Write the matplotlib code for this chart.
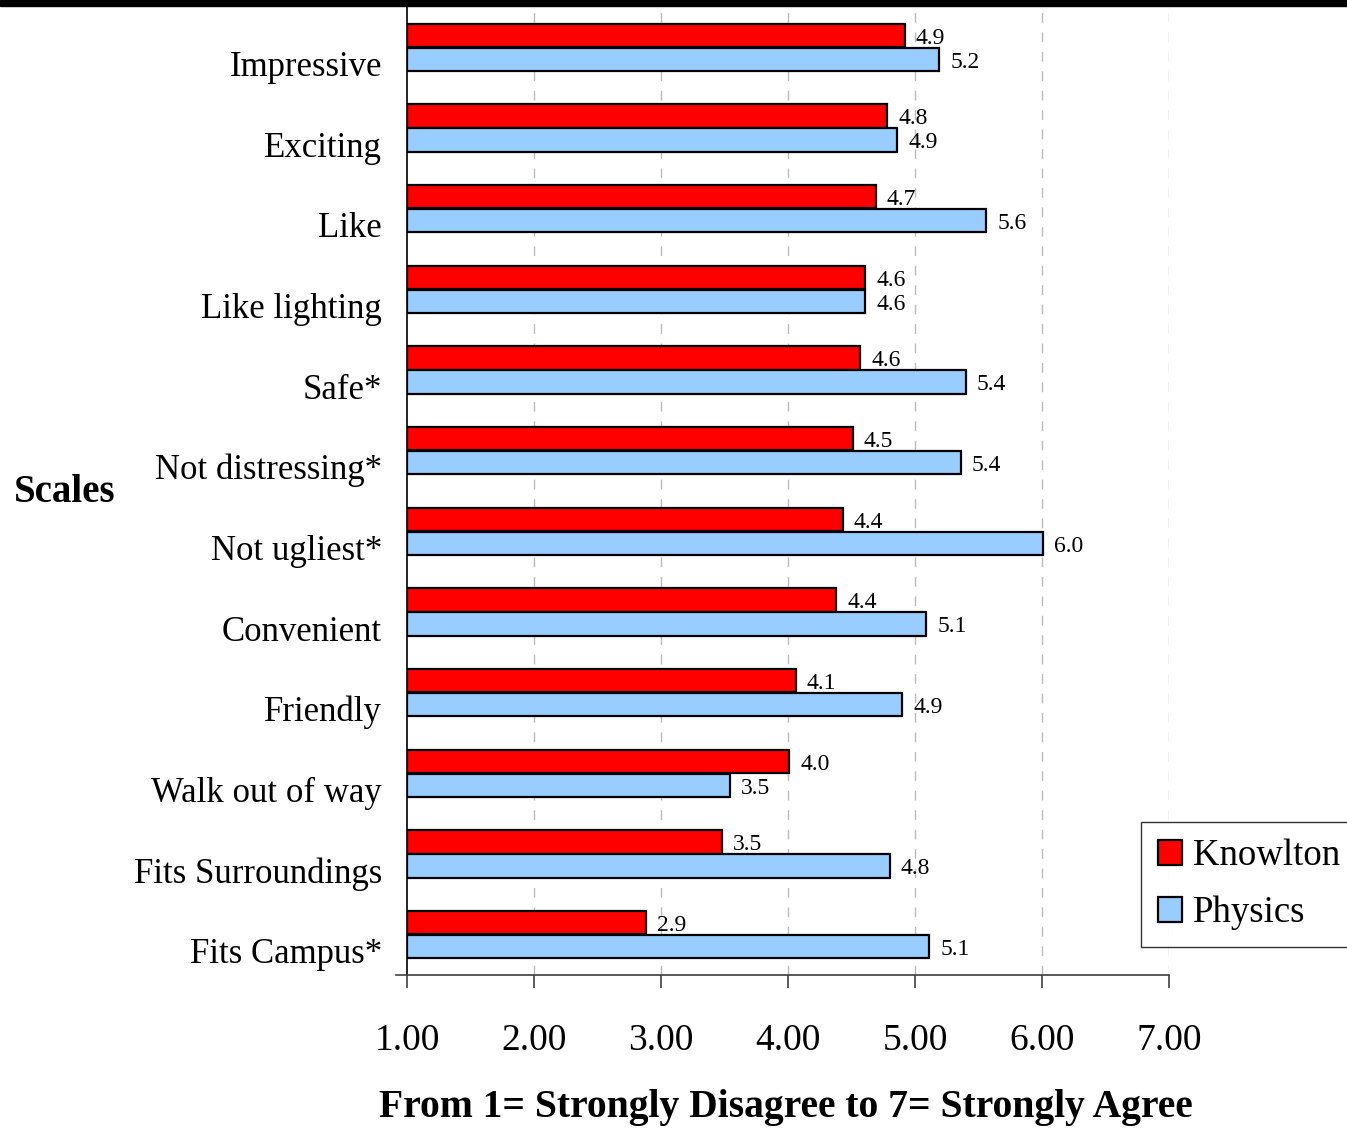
"""Grouped horizontal bar chart: Knowlton vs Physics agreement scales."""

from __future__ import annotations

import matplotlib

matplotlib.use("Agg")
import matplotlib.pyplot as plt
import matplotlib.transforms as mtransforms
import numpy as np
from matplotlib.lines import Line2D
from matplotlib.patches import Rectangle


SCALES = [
    "Impressive",
    "Exciting",
    "Like",
    "Like lighting",
    "Safe*",
    "Not distressing*",
    "Not ugliest*",
    "Convenient",
    "Friendly",
    "Walk out of way",
    "Fits Surroundings",
    "Fits Campus*",
]
KNOWLTON = [4.92, 4.78, 4.69, 4.61, 4.57, 4.51, 4.43, 4.38, 4.06, 4.01, 3.48, 2.88]
PHYSICS = [5.19, 4.86, 5.56, 4.61, 5.40, 5.36, 6.01, 5.09, 4.90, 3.54, 4.80, 5.11]
SERIES_NAMES = ["Knowlton", "Physics"]
X_TICKS = [1, 2, 3, 4, 5, 6, 7]

W, H, DPI = 1347, 1130, 100
FONT = "Liberation Serif"
RED = "#FF0000"
BLUE = "#99CCFF"


def px_x(x: float) -> float:
    return x / W


def px_y(y: float) -> float:
    return 1 - y / H


def main() -> None:
    plt.rcParams["font.family"] = [FONT, "DejaVu Serif"]
    fig = plt.figure(figsize=(W / DPI, H / DPI), dpi=DPI)
    ax = fig.add_axes([px_x(407), px_y(975), px_x(1169 - 407), (975 - 7) / H])

    ypos = np.arange(len(SCALES))
    bar_h = 0.29
    off = 0.15
    red_bars = ax.barh(ypos - off, np.array(KNOWLTON) - 1, left=1, height=bar_h,
                       color=RED, edgecolor="black", linewidth=1.6, zorder=3)
    blue_bars = ax.barh(ypos + off, np.array(PHYSICS) - 1, left=1, height=bar_h,
                        color=BLUE, edgecolor="black", linewidth=1.6, zorder=3)

    for y, v in zip(ypos - off, KNOWLTON):
        ax.annotate(f"{v:.1f}", (v, y), xytext=(8, -2), textcoords="offset points",
                    ha="left", va="center", fontsize=17)
    for y, v in zip(ypos + off, PHYSICS):
        ax.annotate(f"{v:.1f}", (v, y), xytext=(8, -2), textcoords="offset points",
                    ha="left", va="center", fontsize=17)

    ax.set_xlim(1, 7)
    ax.set_ylim(len(SCALES) - 0.5, -0.5)

    for x in X_TICKS[1:]:
        ax.axvline(x, color="#BBBBBB", linewidth=1.0, linestyle=(0, (7, 7)), zorder=1)

    ax.set_xticks(X_TICKS)
    ax.set_xticklabels([f"{t:.2f}" for t in X_TICKS], fontsize=27)
    ax.tick_params(axis="x", direction="out", length=9, width=1.2, pad=26, color="#404040")

    ax.set_yticks(ypos)
    ax.set_yticklabels(SCALES, fontsize=25)
    ax.tick_params(axis="y", length=0, pad=18)
    shift = mtransforms.ScaledTranslation(0, -0.2, fig.dpi_scale_trans)
    for lab in ax.get_yticklabels():
        lab.set_verticalalignment("center")
        lab.set_transform(lab.get_transform() + shift)

    for side in ("top", "right"):
        ax.spines[side].set_visible(False)
    ax.spines["left"].set_linewidth(1.2)
    ax.spines["bottom"].set_linewidth(1.2)
    ax.spines["bottom"].set_color("#404040")
    # small stub of the bottom axis line left of the y axis
    fig.add_artist(Line2D([px_x(396), px_x(407)], [px_y(975), px_y(975)],
                          color="#404040", linewidth=1.2))

    # thick black rule across the top
    fig.add_artist(Rectangle((0, px_y(6)), 1, 6 / H, color="black",
                             transform=fig.transFigure))

    fig.text(px_x(14), px_y(492), "Scales", fontsize=28, fontweight="bold",
             ha="left", va="center")
    fig.text(px_x(786), px_y(1108), "From 1= Strongly Disagree to 7= Strongly Agree",
             fontsize=28.5, fontweight="bold", ha="center", va="center")

    leg = fig.legend([red_bars, blue_bars], SERIES_NAMES, loc="upper left",
                     bbox_to_anchor=(px_x(1141), px_y(822)), fontsize=26.5,
                     frameon=True, fancybox=False, handlelength=0.66,
                     handleheight=0.66, handletextpad=0.3, labelspacing=0.62,
                     borderpad=0.45, borderaxespad=0)
    leg.get_frame().set_edgecolor("black")
    leg.get_frame().set_linewidth(1.0)

    fig.savefig("out.png", dpi=DPI)


if __name__ == "__main__":
    main()
